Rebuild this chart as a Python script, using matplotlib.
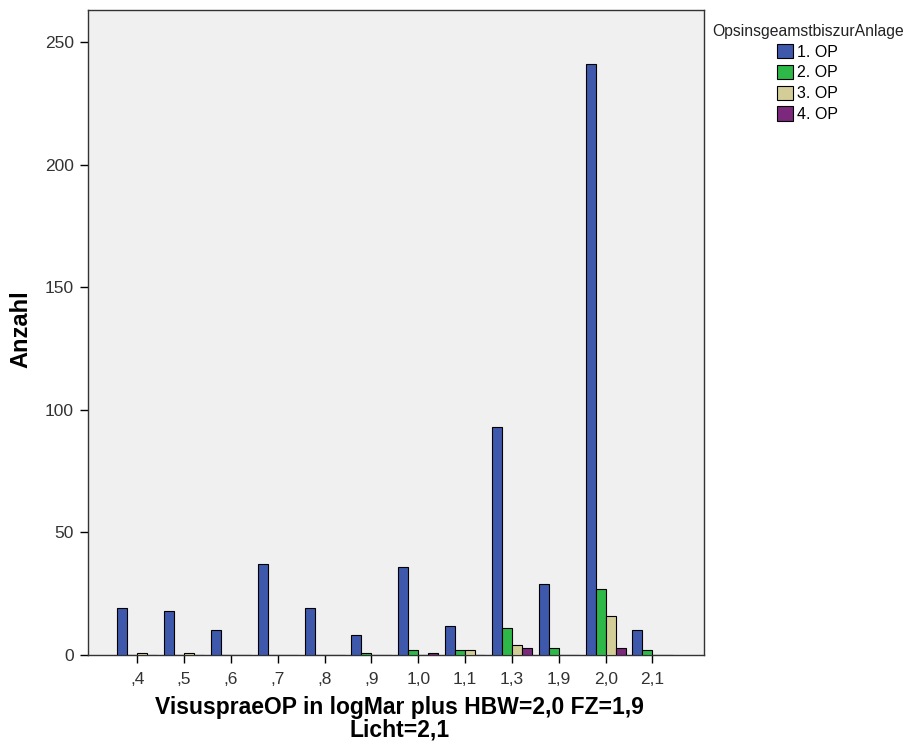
import numpy as np
import matplotlib
matplotlib.use('Agg')
import matplotlib.pyplot as plt
from matplotlib.patches import Patch

categories = [',4', ',5', ',6', ',7', ',8', ',9', '1,0', '1,1', '1,3', '1,9', '2,0', '2,1']
op1 = [19, 18, 10, 37, 19, 8, 36, 12, 93, 29, 241, 10]
op2 = [0, 0, 0, 0, 0, 1, 2, 2, 11, 3, 27, 2]
op3 = [1, 1, 0, 0, 0, 0, 0, 2, 4, 0, 16, 0]
op4 = [0, 0, 0, 0, 0, 0, 1, 0, 3, 0, 3, 0]
series = [op1, op2, op3, op4]
names = ['1. OP', '2. OP', '3. OP', '4. OP']
colors = ['#3e58ac', '#2eb848', '#d3ce97', '#7c287d']

plt.rcParams['font.family'] = ['Liberation Sans', 'DejaVu Sans']

fig = plt.figure(figsize=(9.19, 7.44), dpi=100)
ax = fig.add_axes([88/919, 1 - 655/744, (704-88)/919, (655-10)/744])
ax.set_facecolor('#f0f0f0')

x = np.arange(len(categories))
w = 0.214
for i, (vals, c) in enumerate(zip(series, colors)):
  ax.bar(x + (i - 1.5) * w, vals, width=w, color=c, edgecolor='black', linewidth=0.8, zorder=3)

ax.set_xlim(-1.05, 12.1)
ax.set_ylim(0, 263)
ax.set_xticks(x)
ax.set_xticklabels(categories)
ax.set_yticks([0, 50, 100, 150, 200, 250])
ax.tick_params(axis='both', labelsize=12.5, length=6, width=1, direction='out',
               color='black', labelcolor='#333333')
ax.tick_params(axis='x', pad=6)
ax.tick_params(axis='y', pad=4)
for s in ax.spines.values():
  s.set_color('#333333')
  s.set_linewidth(1)

ax.set_ylabel('Anzahl', fontsize=17, fontweight='bold')
ax.yaxis.set_label_coords(-0.09, 0.505, transform=ax.transAxes)
ax.set_xlabel('VisuspraeOP in logMar plus HBW=2,0 FZ=1,9\nLicht=2,1', fontsize=16.5,
              fontweight='bold', linespacing=0.97)
ax.xaxis.set_label_coords(0.505, -0.063, transform=ax.transAxes)
ax.xaxis.label.set_va('top')

handles = [Patch(facecolor=c, edgecolor='black', linewidth=0.8, label=n) for c, n in zip(colors, names)]
leg = fig.legend(handles=handles, title='OpsinsgeamstbiszurAnlage', loc='upper left',
           bbox_to_anchor=(704/919, 1 - 16/744), frameon=False, fontsize=11.5,
           title_fontsize=11.3, handlelength=1.0, handleheight=1.0, handletextpad=0.25,
           labelspacing=0.32, borderpad=0)
leg.get_title().set_color('#222222')

fig.savefig('out.png', dpi=100)
